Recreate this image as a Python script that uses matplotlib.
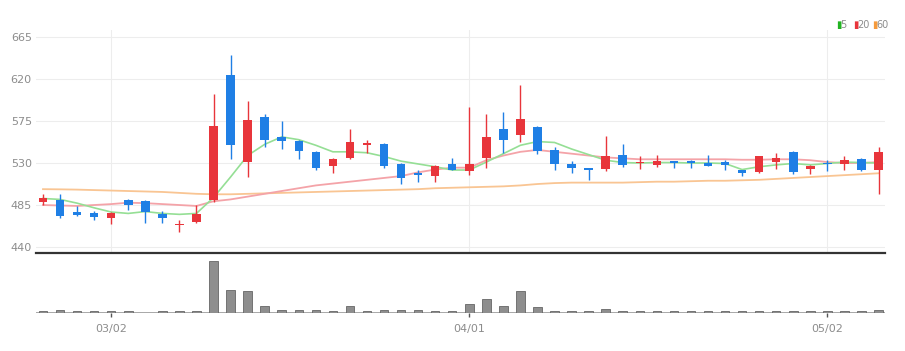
import matplotlib
matplotlib.use('Agg')
import matplotlib.pyplot as plt
import numpy as np

dates = ['02/23', '02/24', '02/25', '02/28', '03/02', '03/03', '03/04', '03/07', '03/08', '03/10',
         '03/11', '03/14', '03/15', '03/16', '03/17', '03/18', '03/21', '03/22', '03/23', '03/24',
         '03/25', '03/28', '03/29', '03/30', '03/31', '04/01', '04/04', '04/05', '04/06', '04/07',
         '04/08', '04/11', '04/12', '04/13', '04/14', '04/15', '04/18', '04/19', '04/20', '04/21',
         '04/22', '04/25', '04/26', '04/27', '04/28', '04/29', '05/02', '05/03', '05/04', '05/06']

opens = [488, 490, 478, 476, 471, 490, 489, 475, 464, 467,
         490, 624, 531, 579, 558, 554, 542, 527, 535, 549,
         550, 529, 519, 516, 529, 521, 535, 566, 560, 569,
         544, 529, 525, 524, 539, 530, 528, 532, 532, 530,
         531, 522, 520, 531, 542, 524, 530, 529, 534, 523]
closes = [492, 473, 474, 472, 476, 485, 478, 471, 465, 475,
          570, 549, 576, 555, 554, 543, 525, 534, 552, 551,
          527, 514, 517, 527, 523, 529, 558, 555, 577, 543,
          529, 525, 523, 537, 528, 531, 532, 530, 530, 527,
          528, 519, 537, 535, 520, 527, 529, 533, 523, 542]
highs = [497, 497, 484, 479, 477, 491, 490, 479, 469, 485,
         604, 646, 596, 582, 575, 555, 543, 535, 566, 555,
         551, 530, 522, 528, 535, 590, 583, 585, 614, 570,
         547, 532, 525, 559, 550, 537, 539, 532, 533, 539,
         533, 523, 538, 541, 543, 528, 533, 538, 535, 547]
lows = [485, 471, 473, 469, 465, 480, 466, 466, 456, 466,
        488, 534, 515, 547, 545, 534, 522, 519, 534, 541,
        525, 507, 510, 510, 522, 517, 525, 541, 552, 540,
        523, 519, 512, 521, 526, 524, 526, 525, 525, 527,
        522, 516, 519, 524, 518, 518, 521, 523, 521, 497]

# moving averages as shown on the chart
ma5 = [492, 491, 487, 482, 477.5, 476, 478, 476, 475, 476,
       493, 515, 538, 550, 558, 555, 549, 542, 542, 541,
       537, 532, 529, 526, 522.5, 522.5, 531, 540, 549, 553,
       552, 545, 539, 533, 530.5, 530, 530.5, 530.5, 530, 530,
       529.5, 523, 526, 528, 529.5, 528, 529.5, 531, 530.5, 530]
ma20 = [485, 484.5, 484, 485, 486, 487.5, 487, 486, 485, 484,
        489, 491, 494, 497, 500, 503, 506, 508, 510, 512,
        514, 516, 520, 523, 525, 525, 533, 538, 542, 544,
        542, 540, 538, 536, 535, 534, 534, 534, 534, 534,
        534, 533.5, 533.5, 534, 534, 533, 531, 530, 530, 531]
ma60 = [502, 501.8, 501.5, 501, 500.5, 500, 499.5, 499, 498, 497,
        496.5, 496.5, 497, 497.5, 498, 498.5, 499, 499.5, 500, 500.5,
        501, 501.5, 502, 503, 503.5, 504, 504.5, 505, 506, 507.5,
        508.5, 509, 509, 509, 509, 509.5, 510, 510, 510.5, 511,
        511, 511.5, 512, 513, 514, 515, 516, 517, 518, 519]

volumes = [14, 25, 14, 14, 14, 14, 0, 15, 15, 15,
           520, 230, 216, 63, 30, 30, 30, 20, 63, 14,
           22, 22, 22, 14, 14, 90, 140, 63, 213, 57,
           18, 18, 18, 40, 18, 14, 14, 14, 14, 14,
           14, 14, 14, 14, 14, 14, 14, 14, 14, 30]

tick_dates = ['03/02', '04/01', '05/02']
yticks = [440, 485, 530, 575, 620, 665]

up_color = '#e8353b'
down_color = '#1f7fe5'
label_color = '#8c8c8c'
narrow = ['Liberation Sans Narrow', 'DejaVu Sans']


def draw_candles(ax):
    x = np.arange(len(dates))
    o = np.array(opens)
    c = np.array(closes)
    colors = [up_color if cc >= oo else down_color for oo, cc in zip(o, c)]
    ax.vlines(x, lows, highs, colors=colors, linewidth=1, zorder=3)
    bottoms = np.minimum(o, c)
    heights = np.maximum(np.abs(c - o), 0.8)
    ax.bar(x, heights, 0.5, bottom=bottoms, color=colors, linewidth=0, zorder=4)


def main():
    fig = plt.figure(figsize=(9.05, 3.51), dpi=100)
    W, H = 905, 351
    left, right = 36, 885
    ax = fig.add_axes([left / W, 1 - 253 / H, (right - left) / W, (253 - 30) / H])
    axv = fig.add_axes([left / W, 1 - 313 / H, (right - left) / W, 60 / H], sharex=ax)

    x = np.arange(len(dates))
    ax.plot(x, ma60, color='#f9c593', linewidth=1.3, zorder=2)
    ax.plot(x, ma20, color='#f4a3a8', linewidth=1.3, zorder=2)
    ax.plot(x, ma5, color='#95df95', linewidth=1.2, zorder=2)
    draw_candles(ax)

    ax.set_xlim(-0.41, len(dates) - 0.62)
    ax.set_ylim(433.6, 672.5)
    ax.set_yticks(yticks)
    ax.tick_params(axis='y', length=0, pad=3, labelsize=8, labelcolor=label_color)
    ax.tick_params(axis='x', length=0, labelbottom=False)
    for lab in ax.get_yticklabels():
        lab.set_family(narrow)
    tick_pos = [dates.index(d) for d in tick_dates]
    ax.set_xticks(tick_pos)
    ax.grid(True, color='#ededed', linewidth=0.8)
    ax.set_axisbelow(True)
    for s in ax.spines.values():
        s.set_visible(False)

    axv.bar(x, volumes, 0.5, color='#8e8e8e', edgecolor='#666666', linewidth=0.6, zorder=3)
    axv.axhline(0, color='#a8a8a8', linewidth=1.4, zorder=2)
    axv.set_ylim(-5, 595)
    axv.set_yticks([])
    axv.set_xticks(tick_pos)
    axv.set_xticklabels(tick_dates, family=narrow)
    axv.tick_params(axis='x', length=3, width=1, color='#555555', pad=5,
                    labelsize=8, labelcolor=label_color)
    for name, s in axv.spines.items():
        s.set_visible(name == 'top')
    axv.spines['top'].set_color('#333333')
    axv.spines['top'].set_linewidth(1.6)

    # legend
    legend_items = [('5', '#22b322'), ('20', '#e8353b'), ('60', '#f59a3c')]
    lx = 836
    for text, col in legend_items:
        fig.text(lx / W, 1 - 25 / H, '\u25AE', color=col, fontsize=7, va='center', ha='left')
        fig.text((lx + 4) / W, 1 - 25 / H, text, color=label_color, fontsize=7, va='center', ha='left',
                 family=narrow)
        lx += 17 if len(text) == 1 else 19

    fig.savefig('out.png', dpi=100, facecolor='white')


if __name__ == "__main__":
    main()
